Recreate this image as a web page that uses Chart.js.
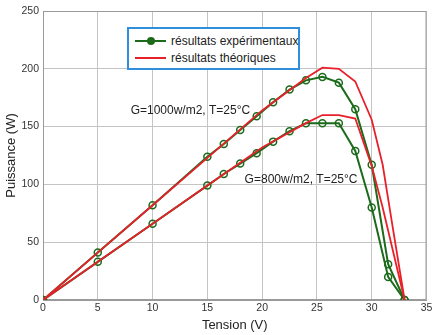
<!DOCTYPE html>
<html lang="fr">
<head>
  <meta charset="UTF-8" />
  <title>Puissance - Tension</title>
  <script src="https://cdn.jsdelivr.net/npm/chart.js"></script>
  <style>
    body { margin: 0; background: #fff; font-family: "Liberation Sans", Arial, sans-serif; }
    #wrap { position: relative; width: 432px; height: 335px; }
    #legendBox {
      position: absolute; left: 127px; top: 27px; width: 169px; height: 39px;
      border: 2px solid #2f8fdc; background: #fff; font-size: 12px; color: #222;
    }
    .row { position: absolute; left: 6px; height: 16px; display: flex; align-items: center; white-space: nowrap; }
    .sample { position: relative; width: 31px; height: 2px; margin-right: 5px; }
    .dot { position: absolute; left: 12px; top: -3px; width: 8px; height: 8px; border-radius: 50%; background: #1b6b1b; }
  </style>
</head>
<body>
  <div id="wrap">
    <canvas id="pvChart" width="432" height="335"></canvas>
    <div id="legendBox"></div>
  </div>

  <script>
    // données
    const xTicks = [0, 5, 10, 15, 20, 25, 30, 35];
    const yTicks = [0, 50, 100, 150, 200, 250];

    const expTension = [0, 5, 10, 15, 16.5, 18, 19.5, 21, 22.5, 24, 25.5, 27, 28.5, 30, 31.5, 33];
    const expP1000 = [0, 41, 82, 124, 135, 147, 159, 171, 182, 190, 193, 188, 165, 117, 31, 0];
    const expP800 = [0, 33, 66, 99, 109, 118, 127, 137, 146, 153, 153, 153, 129, 80, 20, 0];

    const theoTension = [0, 5, 10, 15, 20, 24, 25.5, 27, 28.5, 30, 31, 32, 33];
    const theoP1000 = [0, 41, 82, 123, 164, 192, 201, 200, 189, 156, 117, 58, 0];
    const theoP800 = [0, 33, 66, 99, 132, 153, 160, 160, 157, 116, 80, 40, 0];

    const seriesLabels = ["résultats expérimentaux", "résultats théoriques"];
    const notes = [
      { text: "G=1000w/m2, T=25°C", x: 8.0, y: 164 },
      { text: "G=800w/m2, T=25°C", x: 18.4, y: 104 }
    ];

    const green = "#1b6b1b";
    const red = "#e8202a";

    function pts(xs, ys) {
      return xs.map((x, i) => ({ x: x, y: ys[i] }));
    }

    function expSet(label, ys) {
      return {
        label: label, data: pts(expTension, ys),
        borderColor: green, borderWidth: 2,
        pointRadius: 3.5, pointBorderWidth: 1.5,
        pointBorderColor: green, pointBackgroundColor: "rgba(0,0,0,0)",
        tension: 0, order: 2
      };
    }
    function theoSet(label, ys) {
      return {
        label: label, data: pts(theoTension, ys),
        borderColor: red, borderWidth: 1.8, pointRadius: 0,
        tension: 0, order: 1
      };
    }

    // cadre du graphe + textes G=..., T=...
    const framePlugin = {
      id: "frame",
      beforeDatasetsDraw(chart) {
        const a = chart.chartArea, c = chart.ctx;
        c.save();
        c.strokeStyle = "#9a9a9a";
        c.lineWidth = 1;
        c.strokeRect(a.left + 0.5, a.top + 0.5, a.right - a.left - 1, a.bottom - a.top - 1);
        c.restore();
      },
      afterDatasetsDraw(chart) {
        const c = chart.ctx, xs = chart.scales.x, ys = chart.scales.y;
        c.save();
        c.font = '12px "Liberation Sans", Arial, sans-serif';
        c.fillStyle = "#222";
        c.textBaseline = "middle";
        notes.forEach(n => c.fillText(n.text, xs.getPixelForValue(n.x), ys.getPixelForValue(n.y)));
        c.restore();
      }
    };

    const tickFont = { family: '"Liberation Sans", Arial, sans-serif', size: 10.5 };
    const titleFont = { family: '"Liberation Sans", Arial, sans-serif', size: 13 };

    new Chart(document.getElementById("pvChart"), {
      type: "line",
      data: {
        datasets: [
          expSet(seriesLabels[0], expP1000),
          expSet(seriesLabels[0], expP800),
          theoSet(seriesLabels[1], theoP1000),
          theoSet(seriesLabels[1], theoP800)
        ]
      },
      options: {
        responsive: false,
        animation: false,
        layout: { padding: { top: 11, right: 4, left: 0, bottom: 0 } },
        plugins: { legend: { display: false }, tooltip: { enabled: false } },
        scales: {
          x: {
            type: "linear", min: 0, max: 35,
            afterBuildTicks: s => { s.ticks = xTicks.map(v => ({ value: v })); },
            afterFit: s => { s.height = 35; s.paddingLeft = 0; s.paddingRight = 0; },
            ticks: { color: "#333", font: tickFont, padding: 2, maxRotation: 0 },
            grid: { color: "#c4c4c4", drawTicks: false },
            border: { color: "#9a9a9a" },
            title: { display: true, text: "Tension (V)", color: "#222", font: titleFont, padding: { top: 0, bottom: 2 } }
          },
          y: {
            min: 0, max: 250,
            afterBuildTicks: s => { s.ticks = yTicks.map(v => ({ value: v })); },
            afterFit: s => { s.width = 43; },
            ticks: { color: "#333", font: tickFont, padding: 4 },
            grid: { color: "#c4c4c4", drawTicks: false },
            border: { color: "#9a9a9a" },
            title: { display: true, text: "Puissance (W)", color: "#222", font: titleFont, padding: { top: 4, bottom: 0 } }
          }
        }
      },
      plugins: [framePlugin]
    });

    // légende dans un cadre bleu
    const box = document.getElementById("legendBox");
    box.innerHTML =
      '<div class="row" style="top:4px"><span class="sample" style="background:' + green + '"><span class="dot"></span></span>' + seriesLabels[0] + '</div>' +
      '<div class="row" style="top:21px"><span class="sample" style="background:' + red + '"></span>' + seriesLabels[1] + '</div>';
  </script>
</body>
</html>
